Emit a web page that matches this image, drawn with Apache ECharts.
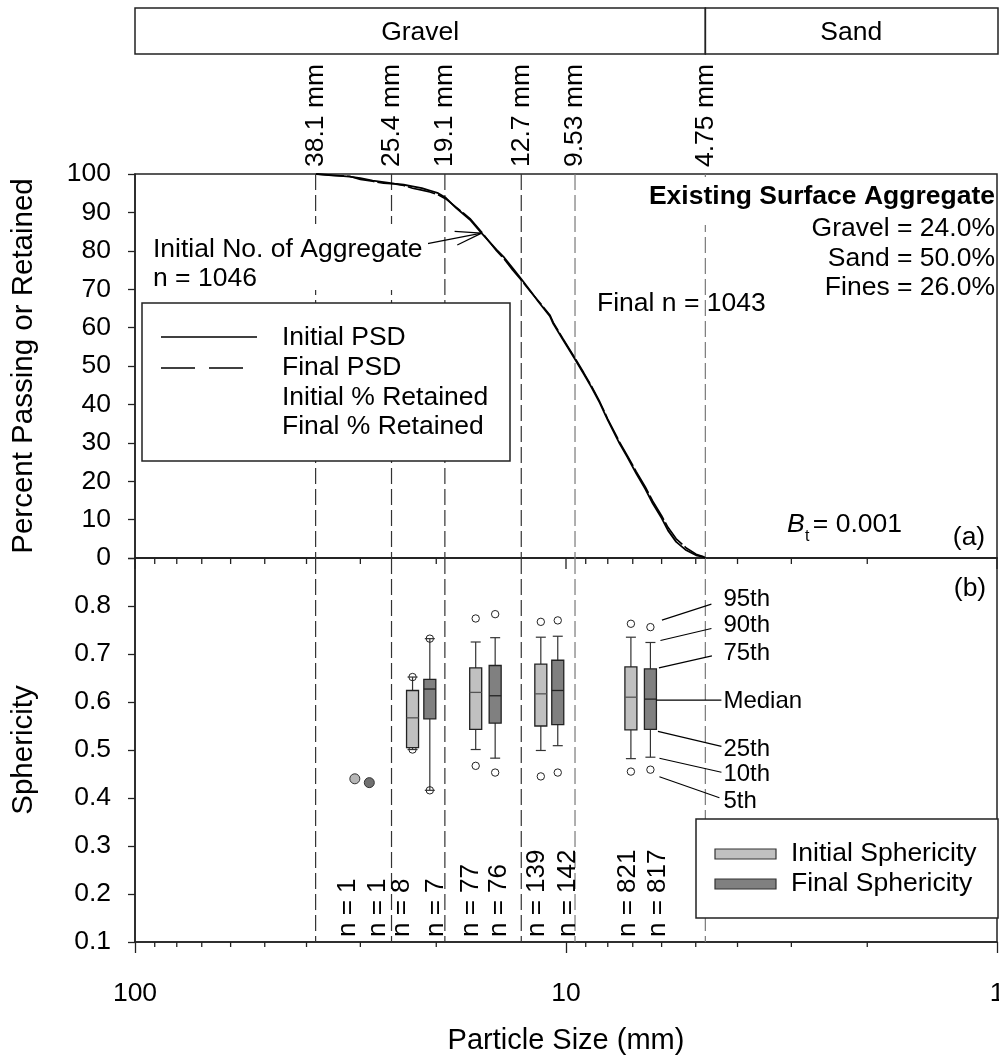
<!DOCTYPE html>
<html>
<head>
<meta charset="utf-8">
<script src="https://cdn.jsdelivr.net/npm/echarts@6/dist/echarts.min.js"></script>
<style>
  html, body { margin: 0; padding: 0; background: #fff; }
  #chart { width: 999px; height: 1059px; }
</style>
</head>
<body>
<div id="chart"></div>
<script>
const FONT = '"Liberation Sans", Arial, Helvetica, sans-serif';

// Particle size distribution: size (mm) and cumulative percent passing
const psdSize = [38.0, 35.0, 31.8, 30.0, 28.1, 26.5, 25.0, 23.8, 22.7, 21.6, 20.7, 19.8, 19.0, 18.0, 16.7, 15.7,
  14.5, 13.9, 13.3, 12.75, 12.1, 11.6, 10.9, 10.7, 10.17, 9.56, 9.1, 8.74, 8.35, 8.0, 7.51, 7.2, 6.87, 6.55,
  6.29, 6.0, 5.80, 5.55, 5.26, 4.99, 4.81, 4.75];
const initialPassing = [100, 99.7, 99.3, 98.9, 98.3, 97.9, 97.5, 97.2, 96.8, 96.3, 95.7, 95.0, 93.8, 91.2, 88.1, 84.6,
  80.3, 78.2, 75.5, 72.9, 69.6, 66.8, 63.0, 61.0, 56.9, 52.0, 48.0, 44.6, 40.4, 35.9, 29.8, 26.2, 22.0, 18.0,
  14.2, 10.4, 7.2, 4.2, 2.0, 0.7, 0.3, 0];
const finalPassing = [100, 99.6, 99.4, 98.6, 98.1, 97.6, 97.4, 97.0, 96.3, 95.8, 95.3, 94.6, 93.5, 91.4, 88.4, 84.9,
  80.0, 77.8, 75.0, 72.6, 69.4, 67.0, 63.3, 61.3, 57.2, 52.3, 48.3, 44.9, 40.7, 36.2, 30.2, 26.6, 22.5, 18.6,
  14.8, 11.0, 8.0, 5.0, 2.6, 1.0, 0.4, 0];

// Sieve openings
const sieveSize = [38.1, 25.4, 19.1, 12.7, 9.53, 4.75];
const sieveLabels = ['38.1 mm', '25.4 mm', '19.1 mm', '12.7 mm', '9.53 mm', '4.75 mm'];

// Soil classes in the header band (upper / lower size of each class)
const classNames = ['Gravel', 'Sand'];
const classBounds = [[100, 4.75], [4.75, 1]];

// Sphericity percentiles per size class: [5th, 10th, 25th, median, 75th, 90th, 95th]
const initialBoxSize = [22.7, 16.2, 11.44, 7.07];
const initialStats = [
  [0.501, 0.501, 0.505, 0.567, 0.624, 0.652, 0.652],
  [0.467, 0.501, 0.543, 0.620, 0.671, 0.725, 0.774],
  [0.445, 0.499, 0.550, 0.617, 0.679, 0.735, 0.767],
  [0.455, 0.482, 0.542, 0.610, 0.673, 0.735, 0.763]
];
const finalBoxSize = [20.7, 14.6, 10.45, 6.37];
const finalStats = [
  [0.416, 0.416, 0.565, 0.627, 0.647, 0.732, 0.732],
  [0.453, 0.483, 0.556, 0.613, 0.676, 0.734, 0.783],
  [0.453, 0.509, 0.553, 0.624, 0.687, 0.737, 0.770],
  [0.459, 0.485, 0.543, 0.606, 0.669, 0.724, 0.756]
];
// Size classes holding a single particle
const initialSingle = [[30.9, 0.440]];
const finalSingle = [[28.6, 0.432]];

// Particle counts per box, written along the bottom of panel (b)
const countSize = [32.1, 27.4, 24.0, 20.0, 16.6, 14.3, 11.7, 9.92, 7.2, 6.13];
const countLabels = ['n = 1', 'n = 1', 'n = 8', 'n = 7', 'n = 77', 'n = 76', 'n = 139', 'n = 142', 'n = 821', 'n = 817'];

const percentileNames = ['95th', '90th', '75th', 'Median', '25th', '10th', '5th'];

// Arrow from the initial-count note to the curve: [size, % passing]
const arrowFrom = [21.1, 81.8];
const arrowTo = [15.7, 84.6];

// Log-axis tick positions
const majorTicks = [100, 10, 1];
const minorTicks = [90, 80, 70, 60, 50, 40, 30, 20, 9, 8, 7, 6, 5, 4, 3, 2];

const LIGHT = '#c0c0c0';
const DARK = '#808080';

const chart = echarts.init(document.getElementById('chart'), null, { renderer: 'canvas' });

function txt(x, y, text, opt) {
  opt = opt || {};
  return {
    type: 'text', x: x, y: y, z: 30,
    style: {
      text: text, fill: '#000',
      fontSize: opt.size || 26.5, fontFamily: FONT,
      fontWeight: opt.weight || 'normal', fontStyle: opt.style || 'normal',
      align: opt.align || 'left', verticalAlign: 'middle'
    }
  };
}
function seg(x1, y1, x2, y2, w, color) {
  return { type: 'line', shape: { x1: x1, y1: y1, x2: x2, y2: y2 }, style: { stroke: color || '#000', lineWidth: w || 1.2 } };
}

function sieveLineRender(params, api) {
  const cs = params.coordSys;
  const x = api.coord([api.value(0), api.value(1)])[0];
  return {
    type: 'line', z2: 1,
    shape: { x1: x, y1: cs.y, x2: x, y2: cs.y + cs.height },
    style: { stroke: params.dataIndex >= 4 ? '#7a7a7a' : '#333', lineWidth: 1.2, lineDash: [16, 5] }
  };
}

function boxRender(fill, medianColor) {
  return function (params, api) {
    const xv = api.value(0);
    const s = [1, 2, 3, 4, 5, 6, 7].map(function (i) { return api.value(i); });
    const y = s.map(function (v) { return api.coord([xv, v])[1]; });
    const px = api.coord([xv, s[3]])[0];
    const hw = 6, cw = 5, r = 3.7;
    return {
      type: 'group',
      children: [
        seg(px, y[1], px, y[2], 1.2, '#333'),
        seg(px, y[4], px, y[5], 1.2, '#333'),
        { type: 'circle', shape: { cx: px, cy: y[0], r: r }, style: { fill: 'none', stroke: '#222', lineWidth: 1 } },
        { type: 'circle', shape: { cx: px, cy: y[6], r: r }, style: { fill: 'none', stroke: '#222', lineWidth: 1 } },
        seg(px - cw, y[1], px + cw, y[1], 1.2, '#333'),
        seg(px - cw, y[5], px + cw, y[5], 1.2, '#333'),
        { type: 'rect', shape: { x: px - hw, y: y[4], width: 2 * hw, height: y[2] - y[4] },
          style: { fill: fill, stroke: '#222', lineWidth: 1.3 } },
        seg(px - hw, y[3], px + hw, y[3], 1.3, medianColor)
      ]
    };
  };
}

const option = {
  animation: false,
  backgroundColor: '#fff',
  textStyle: { fontFamily: FONT },
  grid: [
    { left: 135, top: 174, width: 862, height: 384, show: true, borderColor: '#222', borderWidth: 1.5,
      backgroundColor: 'transparent', containLabel: false, outerBoundsMode: 'none' },
    { left: 135, top: 558, width: 862, height: 384, show: true, borderColor: '#222', borderWidth: 1.5,
      backgroundColor: 'transparent', containLabel: false, outerBoundsMode: 'none' }
  ],
  xAxis: [
    { gridIndex: 0, type: 'log', logBase: 10, min: 1, max: 100, inverse: true,
      axisLine: { show: true, lineStyle: { color: '#222', width: 1.5 } },
      axisTick: { show: false }, axisLabel: { show: false }, splitLine: { show: false }, minorTick: { show: false } },
    { gridIndex: 1, type: 'log', logBase: 10, min: 1, max: 100, inverse: true,
      axisLine: { show: true, lineStyle: { color: '#222', width: 1.5 } },
      axisTick: { show: true, inside: false, length: 11, lineStyle: { color: '#222', width: 1.3 } },
      axisLabel: { show: true, margin: 38, color: '#000', fontSize: 26.5, fontFamily: FONT,
        formatter: function (v) { return String(Math.round(v)); } },
      splitLine: { show: false }, minorTick: { show: false },
      name: 'Particle Size (mm)', nameLocation: 'middle', nameGap: 84,
      nameTextStyle: { color: '#000', fontSize: 29, fontFamily: FONT } }
  ],
  yAxis: [
    { gridIndex: 0, type: 'value', min: 0, max: 100, interval: 10,
      axisLine: { show: true, lineStyle: { color: '#222', width: 1.5 } },
      axisTick: { show: true, inside: false, length: 7, lineStyle: { color: '#222', width: 1.3 } },
      axisLabel: { margin: 24, color: '#000', fontSize: 26.5, fontFamily: FONT },
      splitLine: { show: false },
      name: 'Percent Passing or Retained', nameLocation: 'middle', nameGap: 96,
      nameTextStyle: { color: '#000', fontSize: 29.5, fontFamily: FONT } },
    { gridIndex: 1, type: 'value', min: 0.1, max: 0.9, interval: 0.1,
      axisLine: { show: true, lineStyle: { color: '#222', width: 1.5 } },
      axisTick: { show: true, inside: false, length: 7, lineStyle: { color: '#222', width: 1.3 } },
      axisLabel: { margin: 24, color: '#000', fontSize: 26.5, fontFamily: FONT,
        formatter: function (v) { return v > 0.85 ? '' : v.toFixed(1); } },
      splitLine: { show: false },
      name: 'Sphericity', nameLocation: 'middle', nameGap: 96,
      nameTextStyle: { color: '#000', fontSize: 29.5, fontFamily: FONT } }
  ],
  series: [
    // sieve reference lines, panel (a)
    { type: 'custom', xAxisIndex: 0, yAxisIndex: 0, z: 1, silent: true,
      data: sieveSize.map(function (s) { return [s, 50]; }), renderItem: sieveLineRender },
    // sieve reference lines, panel (b)
    { type: 'custom', xAxisIndex: 1, yAxisIndex: 1, z: 1, silent: true,
      data: sieveSize.map(function (s) { return [s, 0.5]; }), renderItem: sieveLineRender },
    // gradation curves
    { name: 'Initial PSD', type: 'line', xAxisIndex: 0, yAxisIndex: 0, z: 4, symbol: 'none',
      lineStyle: { color: '#000', width: 1.8 },
      data: psdSize.map(function (s, i) { return [s, initialPassing[i]]; }) },
    { name: 'Final PSD', type: 'line', xAxisIndex: 0, yAxisIndex: 0, z: 4, symbol: 'none',
      lineStyle: { color: '#000', width: 1.6, type: [28, 3] },
      data: psdSize.map(function (s, i) { return [s, finalPassing[i]]; }) },
    // arrow to the curve
    { type: 'custom', xAxisIndex: 0, yAxisIndex: 0, z: 5, silent: true,
      data: [[arrowFrom[0], arrowFrom[1], arrowTo[0], arrowTo[1]]],
      encode: { x: [0, 2], y: [1, 3] },
      renderItem: function (params, api) {
        const a = api.coord([api.value(0), api.value(1)]);
        const b = api.coord([api.value(2), api.value(3)]);
        const ang = Math.atan2(b[1] - a[1], b[0] - a[0]);
        const L = 27, h = 0.26;
        return { type: 'group', children: [
          seg(a[0], a[1], b[0], b[1], 1.2),
          seg(b[0] - L * Math.cos(ang - h), b[1] - L * Math.sin(ang - h), b[0], b[1], 1.2),
          seg(b[0] - L * Math.cos(ang + h), b[1] - L * Math.sin(ang + h), b[0], b[1], 1.2)
        ] };
      } },
    // header band with soil classes and sieve labels
    { type: 'custom', xAxisIndex: 0, yAxisIndex: 0, z: 5, silent: true, clip: false,
      data: classBounds.map(function (b) { return [b[0], b[1]]; }),
      encode: { x: [0, 1] },
      renderItem: function (params, api) {
        const x1 = api.coord([api.value(0), 100])[0];
        const x2 = api.coord([api.value(1), 100])[0];
        const top = 8, bottom = 54;
        return { type: 'group', children: [
          { type: 'rect', shape: { x: x1, y: top, width: x2 - x1 + (params.dataIndex === 1 ? 1 : 0), height: bottom - top },
            style: { fill: 'none', stroke: '#222', lineWidth: 1.5 } },
          { type: 'text', x: (x1 + x2) / 2, y: 33,
            style: { text: classNames[params.dataIndex], fill: '#000', fontSize: 26.5, fontFamily: FONT,
              align: 'center', verticalAlign: 'middle' } }
        ] };
      } },
    { type: 'custom', xAxisIndex: 0, yAxisIndex: 0, z: 5, silent: true, clip: false,
      data: sieveSize.map(function (s) { return [s, 100]; }),
      renderItem: function (params, api) {
        const p = api.coord([api.value(0), api.value(1)]);
        return { type: 'text', x: p[0], y: p[1] - 7, rotation: Math.PI / 2,
          style: { text: sieveLabels[params.dataIndex], fill: '#000', fontSize: 26.5, fontFamily: FONT,
            align: 'left', verticalAlign: 'middle' } };
      } },
    // box plots
    { type: 'custom', xAxisIndex: 1, yAxisIndex: 1, z: 4, silent: true,
      data: initialBoxSize.map(function (s, i) { return [s].concat(initialStats[i]); }),
      encode: { x: 0, y: [1, 2, 3, 4, 5, 6, 7] },
      renderItem: boxRender(LIGHT, '#555') },
    { type: 'custom', xAxisIndex: 1, yAxisIndex: 1, z: 4, silent: true,
      data: finalBoxSize.map(function (s, i) { return [s].concat(finalStats[i]); }),
      encode: { x: 0, y: [1, 2, 3, 4, 5, 6, 7] },
      renderItem: boxRender(DARK, '#222') },
    { type: 'scatter', xAxisIndex: 1, yAxisIndex: 1, z: 4, symbolSize: 10, data: initialSingle,
      itemStyle: { color: '#b6b6b6', borderColor: '#333', borderWidth: 1, opacity: 1 } },
    { type: 'scatter', xAxisIndex: 1, yAxisIndex: 1, z: 4, symbolSize: 10, data: finalSingle,
      itemStyle: { color: '#707070', borderColor: '#333', borderWidth: 1, opacity: 1 } },
    // particle counts
    { type: 'custom', xAxisIndex: 1, yAxisIndex: 1, z: 5, silent: true,
      data: countSize.map(function (s) { return [s, 0.1]; }),
      renderItem: function (params, api) {
        const p = api.coord([api.value(0), api.value(1)]);
        return { type: 'text', x: p[0], y: p[1] - 5, rotation: Math.PI / 2,
          style: { text: countLabels[params.dataIndex], fill: '#000', fontSize: 26, fontFamily: FONT,
            align: 'left', verticalAlign: 'middle' } };
      } },
    // percentile key on the last final box
    { type: 'custom', xAxisIndex: 1, yAxisIndex: 1, z: 5, silent: true, clip: false,
      data: [[finalBoxSize[3]].concat(finalStats[3])],
      encode: { x: 0, y: [1, 2, 3, 4, 5, 6, 7] },
      renderItem: function (params, api) {
        const xv = api.value(0);
        const order = [7, 6, 5, 4, 3, 2, 1];
        const startDx = [11.5, 10, 8.5, 6, 7.5, 9, 9];
        const startDy = [-7, -2, -1, 1, 2, 1, 7];
        const labelDy = [-28, -17, -16, 2, 20, 17, 32];
        const endDx = [61, 61, 61.5, 71, 71, 71, 69];
        const endDy = [5, 3, 3, -1, -3, -2, -4];
        const children = [];
        order.forEach(function (k, i) {
          const p = api.coord([xv, api.value(k)]);
          const ly = p[1] + labelDy[i];
          children.push(seg(p[0] + startDx[i], p[1] + startDy[i], p[0] + endDx[i], ly + endDy[i], 1.1));
          children.push({ type: 'text', x: p[0] + 73, y: ly,
            style: { text: percentileNames[i], fill: '#000', fontSize: 24, fontFamily: FONT,
              align: 'left', verticalAlign: 'middle' } });
        });
        return { type: 'group', children: children };
      } },
    // minor log ticks on both edges of panel (b), major tick marks on its top edge
    { type: 'custom', xAxisIndex: 1, yAxisIndex: 1, z: 5, silent: true, clip: false,
      data: minorTicks.map(function (v) { return [v, 0.1]; }),
      renderItem: function (params, api) {
        const cs = params.coordSys;
        const x = api.coord([api.value(0), api.value(1)])[0];
        return { type: 'group', children: [
          seg(x, cs.y + cs.height, x, cs.y + cs.height + 5, 1.3, '#222'),
          seg(x, cs.y, x, cs.y + 6, 1.3, '#222')
        ] };
      } },
    { type: 'custom', xAxisIndex: 1, yAxisIndex: 1, z: 5, silent: true, clip: false,
      data: majorTicks.map(function (v) { return [v, 0.9]; }),
      renderItem: function (params, api) {
        const cs = params.coordSys;
        const x = api.coord([api.value(0), api.value(1)])[0];
        return seg(x, cs.y, x, cs.y + 11, 1.3, '#222');
      } }
  ],
  graphic: { elements: [
    // panel (a) notes
    { type: 'rect', z: 20, shape: { x: 148, y: 224, width: 280, height: 66 }, style: { fill: '#fff' } },
    txt(153, 250, 'Initial No. of Aggregate'),
    txt(153, 279, 'n = 1046'),
    { type: 'rect', z: 20, shape: { x: 642, y: 177, width: 354, height: 48 }, style: { fill: '#fff' } },
    txt(995, 197, 'Existing Surface Aggregate', { align: 'right', weight: 'bold' }),
    txt(995, 229, 'Gravel = 24.0%', { align: 'right' }),
    txt(995, 259, 'Sand = 50.0%', { align: 'right' }),
    txt(995, 288, 'Fines = 26.0%', { align: 'right' }),
    txt(597, 304, 'Final n = 1043'),
    txt(787, 525, 'B', { style: 'italic' }),
    txt(805, 537, 't', { size: 16 }),
    txt(902, 525, '= 0.001', { align: 'right' }),
    txt(969, 538, '(a)', { align: 'center' }),
    txt(970, 589, '(b)', { align: 'center' }),
    // panel (a) legend
    { type: 'rect', z: 25, shape: { x: 142, y: 303, width: 368, height: 158 },
      style: { fill: '#fff', stroke: '#222', lineWidth: 1.5 } },
    Object.assign(seg(161, 337, 257, 337, 1.6), { z: 30 }),
    Object.assign(seg(161, 368, 195, 368, 1.6), { z: 30 }),
    Object.assign(seg(209, 368, 243, 368, 1.6), { z: 30 }),
    txt(282, 338, 'Initial PSD'),
    txt(282, 367.5, 'Final PSD'),
    txt(282, 398, 'Initial % Retained'),
    txt(282, 427, 'Final % Retained'),
    // panel (b) legend
    { type: 'rect', z: 25, shape: { x: 696, y: 819, width: 302, height: 99 },
      style: { fill: '#fff', stroke: '#222', lineWidth: 1.5 } },
    { type: 'rect', z: 30, shape: { x: 715, y: 849, width: 61, height: 10 },
      style: { fill: LIGHT, stroke: '#333', lineWidth: 1.2 } },
    { type: 'rect', z: 30, shape: { x: 715, y: 879, width: 61, height: 10 },
      style: { fill: DARK, stroke: '#333', lineWidth: 1.2 } },
    txt(791, 854, 'Initial Sphericity'),
    txt(791, 884, 'Final Sphericity')
  ] }
};

chart.setOption(option);
</script>
</body>
</html>
